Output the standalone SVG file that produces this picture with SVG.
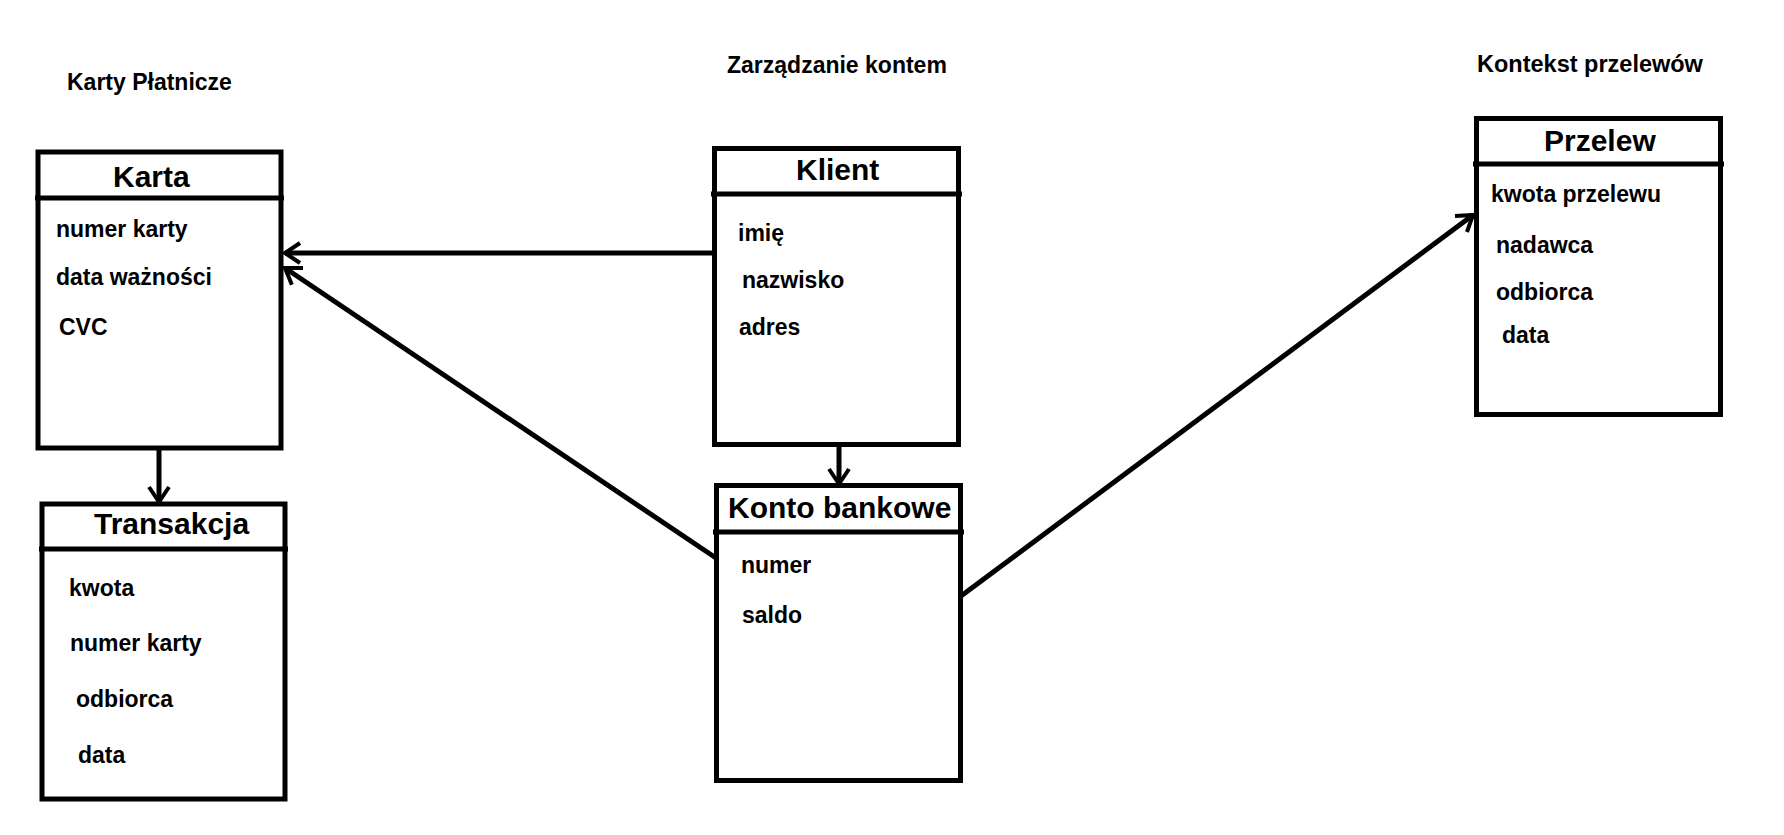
<svg xmlns="http://www.w3.org/2000/svg" width="1784" height="835" viewBox="0 0 1784 835">
<style>
.box{fill:#fff;stroke:#000;stroke-width:5}
.hdr{stroke:#000;stroke-width:5}
.title{font-family:"Liberation Sans",Arial,sans-serif;font-weight:bold;font-size:30px;fill:#000}
.attr{font-family:"Liberation Sans",Arial,sans-serif;font-weight:bold;font-size:23px;fill:#000}
.sect{font-family:"Liberation Sans",Arial,sans-serif;font-weight:bold;font-size:23px;fill:#000}
.conn{stroke:#000;stroke-width:5;fill:none}
</style>
<defs>
<marker id="arr" markerUnits="userSpaceOnUse" viewBox="-20 -15 30 30" markerWidth="30" markerHeight="30" refX="0" refY="0" orient="auto" overflow="visible">
<path d="M-15,-10 L0,0 L-15,10" fill="none" stroke="#000" stroke-width="4"/>
</marker>
</defs>
<rect width="1784" height="835" fill="#fff"/>
<g id="sections">
<text class="sect" x="67" y="90">Karty Płatnicze</text>
<text class="sect" x="727" y="73">Zarządzanie kontem</text>
<text class="sect" x="1477" y="72" style="font-size:23.5px">Kontekst przelewów</text>
</g>
<g id="connectors">
<line class="conn" x1="714" y1="253" x2="285" y2="253" marker-end="url(#arr)"/>
<line class="conn" x1="716" y1="558" x2="285" y2="268" marker-end="url(#arr)"/>
<line class="conn" x1="961" y1="596" x2="1473" y2="215" marker-end="url(#arr)"/>
<line class="conn" x1="159" y1="448" x2="159" y2="502" marker-end="url(#arr)"/>
<line class="conn" x1="839" y1="447" x2="839" y2="484" marker-end="url(#arr)"/>
</g>
<g id="karta">
<rect class="box" x="38" y="152" width="243" height="296"/>
<line class="hdr" x1="35" y1="198" x2="284" y2="198"/>
<text class="title" x="113" y="187">Karta</text>
<text class="attr" x="56" y="237">numer karty</text>
<text class="attr" x="56" y="285">data ważności</text>
<text class="attr" x="59" y="335">CVC</text>
</g>
<g id="transakcja">
<rect class="box" x="42" y="504" width="243" height="295"/>
<line class="hdr" x1="39" y1="549" x2="288" y2="549"/>
<text class="title" x="94" y="534">Transakcja</text>
<text class="attr" x="69" y="596">kwota</text>
<text class="attr" x="70" y="651">numer karty</text>
<text class="attr" x="76" y="707">odbiorca</text>
<text class="attr" x="78" y="763">data</text>
</g>
<g id="klient">
<rect class="box" x="714.5" y="148.5" width="244" height="296"/>
<line class="hdr" x1="711" y1="194" x2="962" y2="194"/>
<text class="title" x="796" y="180">Klient</text>
<text class="attr" x="738" y="241">imię</text>
<text class="attr" x="742" y="288">nazwisko</text>
<text class="attr" x="739" y="335">adres</text>
</g>
<g id="konto">
<rect class="box" x="716.5" y="485.5" width="244" height="295"/>
<line class="hdr" x1="713" y1="532" x2="964" y2="532"/>
<text class="title" x="728" y="518">Konto bankowe</text>
<text class="attr" x="741" y="573">numer</text>
<text class="attr" x="742" y="623">saldo</text>
</g>
<g id="przelew">
<rect class="box" x="1476.5" y="118.5" width="244" height="296"/>
<line class="hdr" x1="1473" y1="164" x2="1724" y2="164"/>
<text class="title" x="1544" y="151">Przelew</text>
<text class="attr" x="1491" y="202">kwota przelewu</text>
<text class="attr" x="1496" y="253">nadawca</text>
<text class="attr" x="1496" y="300">odbiorca</text>
<text class="attr" x="1502" y="343">data</text>
</g>
</svg>
